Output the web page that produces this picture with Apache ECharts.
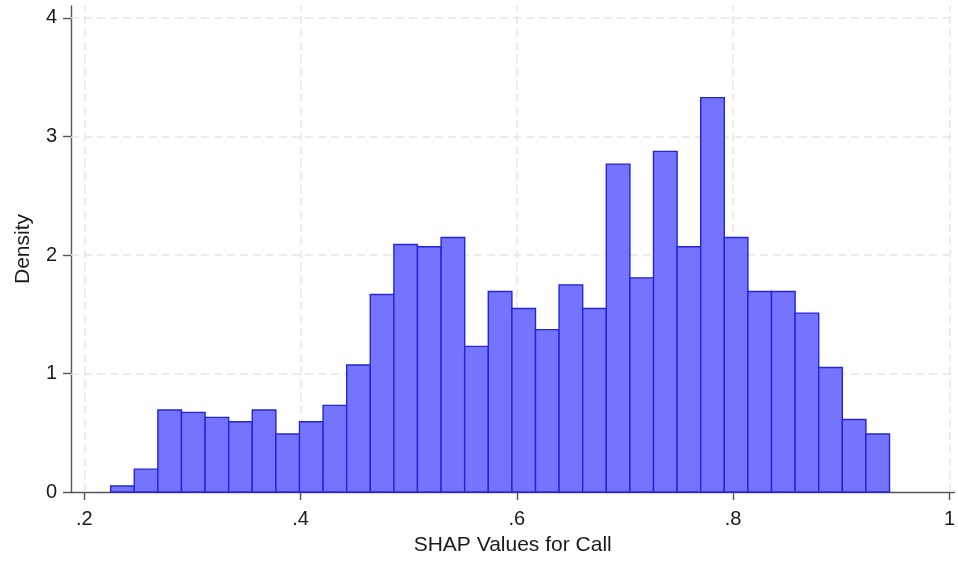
<!DOCTYPE html>
<html>
<head>
<meta charset="utf-8">
<script src="https://cdn.jsdelivr.net/npm/echarts@6/dist/echarts.min.js"></script>
<style>
html,body{margin:0;padding:0;background:#fff;}
#chart{width:958px;height:561px;}
</style>
</head>
<body>
<div id="chart"></div>
<script>
// Histogram bins (equal width) and densities
const binStart = 0.2244;
const binWidth = 0.021824;
const densities = [
  0.050, 0.193, 0.692, 0.672, 0.630, 0.593, 0.692, 0.490, 0.593, 0.731,
  1.072, 1.666, 2.089, 2.070, 2.148, 1.229, 1.692, 1.549, 1.370, 1.748,
  1.549, 2.767, 1.807, 2.874, 2.070, 3.328, 2.148, 1.692, 1.692, 1.509,
  1.050, 0.612, 0.490
];
const xTickValues = [0.2, 0.4, 0.6, 0.8, 1.0];
const xTickLabels = ['.2', '.4', '.6', '.8', '1'];
const yTickValues = [0, 1, 2, 3, 4];
const yTickLabels = ['0', '1', '2', '3', '4'];
const xTitle = 'SHAP Values for Call';
const yTitle = 'Density';

const barData = densities.map((d, i) => [binStart + i * binWidth, binStart + (i + 1) * binWidth, d]);

const FONT = 'Liberation Sans, Arial, sans-serif';
const axisColor = '#555555';
const gridLineStyle = { color: '#e6e6e6', width: 1.5, type: [8, 5] };

const chart = echarts.init(document.getElementById('chart'), null, { renderer: 'canvas' });
chart.setOption({
  animation: false,
  backgroundColor: '#ffffff',
  grid: { left: 71, right: 2, top: 6, bottom: 67, containLabel: false },
  xAxis: {
    type: 'value',
    min: 0.18772,
    max: 1.00459,
    name: xTitle,
    nameLocation: 'middle',
    nameGap: 43,
    nameTextStyle: { fontFamily: FONT, fontSize: 21, color: '#1a1a1a' },
    axisLine: { show: true, onZero: false, lineStyle: { color: axisColor, width: 1.4 } },
    axisTick: { show: true, customValues: xTickValues, length: 8, inside: false, lineStyle: { color: axisColor, width: 1.4 } },
    axisLabel: {
      customValues: xTickValues,
      margin: 17,
      fontFamily: FONT, fontSize: 20, color: '#1a1a1a',
      formatter: v => { const i = xTickValues.findIndex(t => Math.abs(t - v) < 1e-6); return i >= 0 ? xTickLabels[i] : ''; }
    },
    splitLine: { show: false }
  },
  yAxis: {
    type: 'value',
    min: 0,
    max: 4.101,
    name: yTitle,
    nameLocation: 'middle',
    nameGap: 37,
    nameRotate: 90,
    nameTextStyle: { fontFamily: FONT, fontSize: 21, color: '#1a1a1a' },
    axisLine: { show: true, onZero: false, lineStyle: { color: axisColor, width: 1.4 } },
    axisTick: { show: true, customValues: yTickValues, length: 8, inside: false, lineStyle: { color: axisColor, width: 1.4 } },
    axisLabel: {
      customValues: yTickValues,
      margin: 14,
      fontFamily: FONT, fontSize: 20, color: '#1a1a1a',
      formatter: v => { const i = yTickValues.findIndex(t => Math.abs(t - v) < 1e-6); return i >= 0 ? yTickLabels[i] : ''; }
    },
    splitLine: { show: false }
  },
  series: [
    {
      type: 'line',
      data: [],
      z: 1,
      silent: true,
      markLine: {
        silent: true,
        z: 1,
        symbol: ['none', 'none'],
        label: { show: false },
        lineStyle: gridLineStyle,
        data: xTickValues.map(v => ({ xAxis: v })).concat(yTickValues.filter(v => v > 0).map(v => ({ yAxis: v })))
      }
    },
    {
      type: 'custom',
      z: 10,
      encode: { x: [0, 1], y: 2 },
      data: barData,
      renderItem: function (params, api) {
        const x0 = api.value(0), x1 = api.value(1), y = api.value(2);
        const p0 = api.coord([x0, y]);
        const p1 = api.coord([x1, 0]);
        return {
          type: 'rect',
          shape: { x: p0[0], y: p0[1], width: p1[0] - p0[0], height: p1[1] - p0[1] },
          style: { fill: '#7474ff', stroke: '#2424d8', lineWidth: 1.4 }
        };
      }
    }
  ]
});
</script>
</body>
</html>
